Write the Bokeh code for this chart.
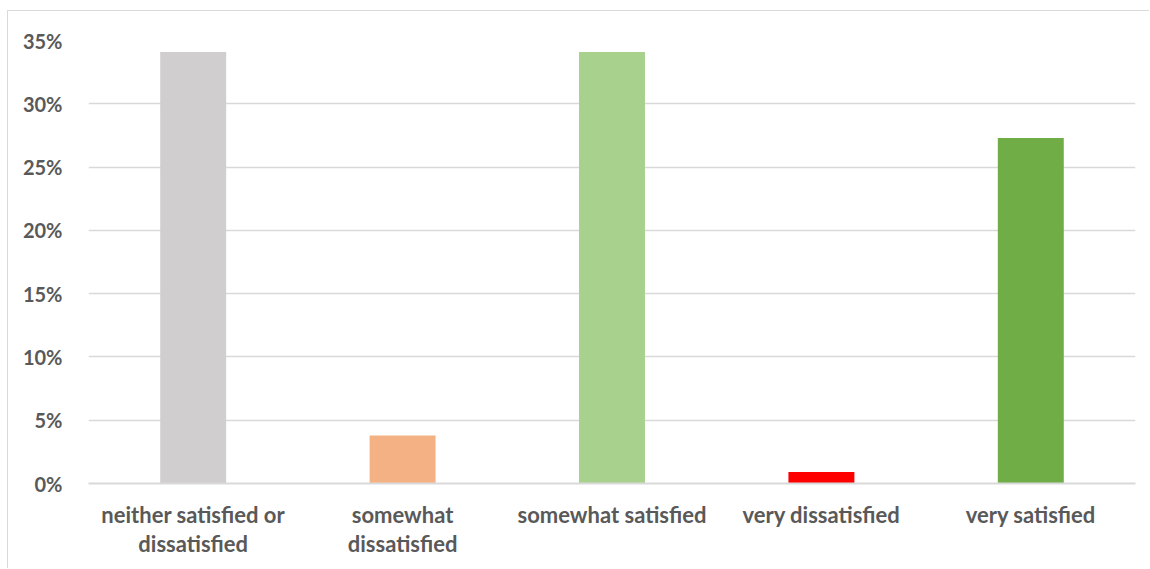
from bokeh.plotting import figure
from bokeh.models import FixedTicker, NumeralTickFormatter, Range1d
from bokeh.embed import file_html
from bokeh.resources import INLINE

categories = ["neither satisfied or\ndissatisfied", "somewhat\ndissatisfied",
              "somewhat satisfied", "very dissatisfied", "very satisfied"]
values = [0.341, 0.038, 0.341, 0.009, 0.273]
colors = ["#d0cece", "#f4b183", "#a9d18e", "#ff0000", "#70ad47"]
y_ticks = [0, 0.05, 0.10, 0.15, 0.20, 0.25, 0.30, 0.35]

xs = list(range(len(categories)))

p = figure(width=1142, height=558, output_backend="svg", toolbar_location=None,
           x_range=Range1d(-0.5, len(categories) - 0.5), y_range=Range1d(0, 0.35),
           min_border_left=80, min_border_right=15, min_border_top=29, min_border_bottom=86)
p.margin = (10, 0, 0, 7)
p.styles = {"border-left": "1px solid #d9d9d9", "border-top": "1px solid #d9d9d9"}

p.vbar(x=xs, top=values, width=0.315, bottom=0, color=colors, line_color=None)

p.outline_line_color = None
p.xgrid.grid_line_color = None
p.ygrid.grid_line_color = "#d9d9d9"
p.ygrid.grid_line_width = 1.5

p.yaxis.ticker = FixedTicker(ticks=y_ticks)
p.yaxis.formatter = NumeralTickFormatter(format="0%")
p.yaxis.axis_line_color = None
p.yaxis.major_tick_line_color = None
p.yaxis.minor_tick_line_color = None
p.yaxis.major_label_standoff = 20

p.xaxis.ticker = FixedTicker(ticks=xs)
p.xaxis.major_label_overrides = {i: c for i, c in zip(xs, categories)}
p.xaxis.axis_line_color = "#d9d9d9"
p.xaxis.axis_line_width = 2
p.xaxis.major_tick_line_color = None
p.xaxis.minor_tick_line_color = None
p.xaxis.major_label_standoff = 11

for ax in (p.xaxis, p.yaxis):
    ax.major_label_text_font = "Lato"
    ax.major_label_text_font_style = "bold"
    ax.major_label_text_color = "#595959"
p.yaxis.major_label_text_font_size = "20px"
p.xaxis.major_label_text_font_size = "22px"
p.xaxis.major_label_text_line_height = 1.1

open("out.html", "w").write(file_html(p, INLINE))
